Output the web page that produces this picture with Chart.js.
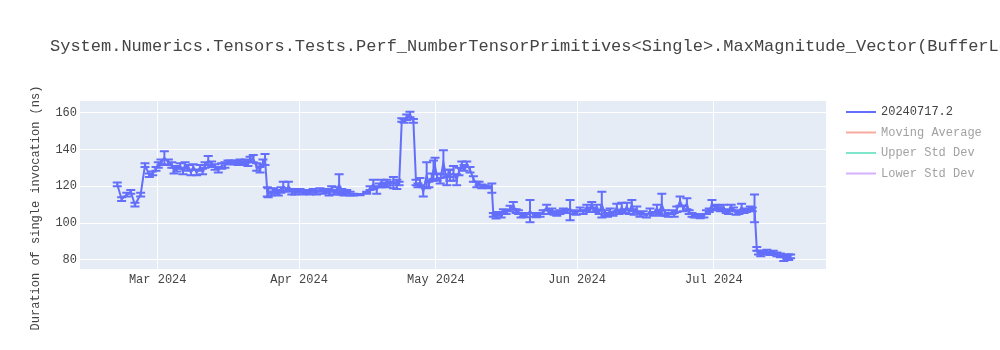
<!DOCTYPE html>
<html><head><meta charset="utf-8">
<script src="https://cdn.jsdelivr.net/npm/chart.js@4"></script>
<style>html,body{margin:0;padding:0;background:#fff}#wrap{width:1000px;height:350px;position:relative}</style>
</head><body><div id="wrap"><canvas id="c" width="1000" height="350"></canvas></div>
<script>
const chartTitle = "System.Numerics.Tensors.Tests.Perf_NumberTensorPrimitives<Single>.MaxMagnitude_Vector(BufferLength: 128)";
const yAxisTitle = "Duration of single invocation (ns)";
const seriesNames = ["20240717.2", "Moving Average", "Upper Std Dev", "Lower Std Dev"];
const seriesColors = ["#636efa", "#f7aa9d", "#80e6cb", "#d5b1fd"];
const yTicks = [80, 100, 120, 140, 160];
const xTickDates = ["2024-03-01", "2024-04-01", "2024-05-01", "2024-06-01", "2024-07-01"];
const xTickLabels = ["Mar 2024", "Apr 2024", "May 2024", "Jun 2024", "Jul 2024"];

const dates = [
"2024-02-21T03:00","2024-02-22T02:00","2024-02-23T05:00","2024-02-24T02:00","2024-02-25T00:00","2024-02-26T06:00","2024-02-27T05:00","2024-02-28T04:00","2024-02-28T22:00","2024-02-29T15:00",
"2024-03-01T03:00","2024-03-01T17:00","2024-03-02T11:00","2024-03-03T08:00","2024-03-04T02:00","2024-03-04T14:00","2024-03-05T04:00","2024-03-05T22:00","2024-03-06T13:00","2024-03-07T00:00",
"2024-03-07T17:00","2024-03-08T07:00","2024-03-08T19:00","2024-03-09T13:00","2024-03-10T07:00","2024-03-10T20:00","2024-03-11T09:00","2024-03-12T02:00","2024-03-12T20:00","2024-03-13T14:00",
"2024-03-14T07:00","2024-03-15T01:00","2024-03-15T18:00","2024-03-16T10:00","2024-03-16T21:00","2024-03-17T23:00","2024-03-18T15:00","2024-03-19T01:00","2024-03-19T17:00","2024-03-20T04:00",
"2024-03-20T19:00","2024-03-21T06:00","2024-03-21T23:00","2024-03-22T17:00","2024-03-23T11:00","2024-03-24T02:00","2024-03-24T13:00","2024-03-25T01:00","2024-03-25T06:00","2024-03-25T21:00",
"2024-03-26T09:00","2024-03-26T23:00","2024-03-27T11:00","2024-03-28T01:00","2024-03-28T13:00","2024-03-29T04:00","2024-03-29T16:00","2024-03-30T10:00","2024-03-31T03:00","2024-04-01T05:00",
"2024-04-01T21:00","2024-04-02T17:00","2024-04-03T10:00","2024-04-04T03:00","2024-04-04T20:00","2024-04-05T14:00","2024-04-06T06:00","2024-04-07T02:00","2024-04-07T14:00","2024-04-08T04:00",
"2024-04-08T16:00","2024-04-09T08:00","2024-04-09T19:00","2024-04-10T09:00","2024-04-10T21:00","2024-04-11T11:00","2024-04-12T05:00","2024-04-12T22:00","2024-04-14T09:00","2024-04-15T20:00",
"2024-04-16T14:00","2024-04-17T07:00","2024-04-18T01:00","2024-04-18T13:00","2024-04-19T03:00","2024-04-19T16:00","2024-04-20T06:00","2024-04-20T23:00","2024-04-21T17:00","2024-04-22T11:00",
"2024-04-22T23:00","2024-04-23T13:00","2024-04-24T01:00","2024-04-24T15:00","2024-04-25T08:00","2024-04-26T02:00","2024-04-26T16:00","2024-04-27T02:00","2024-04-27T13:00","2024-04-28T06:00",
"2024-04-29T00:00","2024-04-29T12:00","2024-04-30T03:00","2024-04-30T12:00","2024-04-30T20:00","2024-05-01T07:00","2024-05-01T23:00","2024-05-02T16:00","2024-05-03T10:00","2024-05-03T19:00",
"2024-05-04T03:00","2024-05-04T21:00","2024-05-05T14:00","2024-05-06T02:00","2024-05-06T17:00","2024-05-07T05:00","2024-05-07T19:00","2024-05-08T12:00","2024-05-09T06:00","2024-05-10T00:00",
"2024-05-10T12:00","2024-05-11T02:00","2024-05-11T19:00","2024-05-12T11:00","2024-05-13T07:00","2024-05-13T15:00","2024-05-14T05:00","2024-05-14T18:00","2024-05-15T08:00","2024-05-15T20:00",
"2024-05-16T10:00","2024-05-17T07:00","2024-05-18T00:00","2024-05-18T15:00","2024-05-19T03:00","2024-05-19T17:00","2024-05-20T05:00","2024-05-20T19:00","2024-05-21T16:00","2024-05-22T10:00",
"2024-05-23T02:00","2024-05-23T21:00","2024-05-24T13:00","2024-05-25T08:00","2024-05-25T20:00","2024-05-26T11:00","2024-05-26T23:00","2024-05-27T13:00","2024-05-28T06:00","2024-05-29T00:00",
"2024-05-29T18:00","2024-05-30T11:00","2024-05-31T05:00","2024-05-31T19:00","2024-06-01T16:00","2024-06-02T08:00","2024-06-03T03:00","2024-06-03T15:00","2024-06-04T05:00","2024-06-04T17:00",
"2024-06-05T07:00","2024-06-05T20:00","2024-06-06T10:00","2024-06-07T03:00","2024-06-07T16:00","2024-06-08T06:00","2024-06-08T21:00","2024-06-09T17:00","2024-06-10T05:00","2024-06-10T19:00",
"2024-06-11T07:00","2024-06-11T22:00","2024-06-12T10:00","2024-06-13T00:00","2024-06-13T12:00","2024-06-14T02:00","2024-06-14T19:00","2024-06-15T12:00","2024-06-16T05:00","2024-06-17T00:00",
"2024-06-17T16:00","2024-06-18T12:00","2024-06-19T00:00","2024-06-19T14:00","2024-06-20T07:00","2024-06-21T00:00","2024-06-21T19:00","2024-06-22T07:00","2024-06-22T21:00","2024-06-23T14:00",
"2024-06-24T07:00","2024-06-25T02:00","2024-06-25T14:00","2024-06-26T05:00","2024-06-26T17:00","2024-06-27T07:00","2024-06-28T00:00","2024-06-28T19:00","2024-06-29T09:00","2024-06-30T00:00",
"2024-06-30T14:00","2024-07-01T07:00","2024-07-01T21:00","2024-07-02T10:00","2024-07-03T02:00","2024-07-03T17:00","2024-07-04T05:00","2024-07-04T19:00","2024-07-05T07:00","2024-07-05T21:00",
"2024-07-06T12:00","2024-07-07T02:00","2024-07-07T15:00","2024-07-08T04:00","2024-07-09T00:00","2024-07-09T10:00","2024-07-09T22:00","2024-07-10T10:00","2024-07-10T19:00","2024-07-11T07:00",
"2024-07-11T20:00","2024-07-12T15:00","2024-07-13T09:00","2024-07-14T01:00","2024-07-14T20:00","2024-07-15T14:00","2024-07-16T08:00","2024-07-16T22:00","2024-07-17T10:00","2024-07-17T20:00"
];
const values = [
121,113,115.5,117,110,115.5,131.5,126,127,129.5,
131.5,133,135.5,133,131.5,128.5,129.5,131,128,131.5,
130,127.5,130.5,127.5,130,128,131.5,134,132,130.5,
129,131,131.5,133,133,133,132.5,133.5,132.5,133.5,
132.5,134.5,135,130.5,129,133,134.5,117,116.5,116,
118,117,116,118,120,118,120,117,116.5,117.5,
116.5,117,116.5,117.5,116.5,118,117,117.5,116,119,
116.5,118,121,117,116,117,116,115.5,115.5,116.5,
119,121,118,120.5,121.5,121,121.5,121.5,122,121,
121.5,156,155.5,157.5,159,155.5,122,120.5,122.5,117,
126,121,125,129,131,125,123,133,123,127,
126,127,123.5,128,131.5,130,132,129,124,121,
121.5,120,120,119.5,119,104.5,103.5,105,104,106.5,
106,108,109.5,106.5,106,104,104.5,104,106.5,104.5,
104,104.5,106,108.5,106,107,105.5,105,106,107,
106.5,107,106,105.5,107.5,106,108.5,107,110,107,
108.5,106,110,105.5,104.5,106.5,105,108.5,106,108.5,
106.5,109,106,110,105.5,107.5,104.5,105.5,104,106.5,
105,108,106,110,105.5,104.5,106,104.5,107.5,112,
108,110.5,106,104.5,104,104,103.5,104,106,107,
110,108.5,108.5,107.5,108.5,106.5,106,108.5,107.5,105.5,
106,108.5,106.5,107,108,107.5,108,86,84,83,
84,84.5,83.5,84,83,82.5,81,82,81.5,82
];
const errors = [
1,1,1,1,1,1,1,1,1,1,
1.5,1.5,3.5,1.5,1.5,1.5,1.5,1.5,1.5,1.5,
1.5,1.5,1.5,1.5,1.5,1.5,1.5,2.5,1.5,1.5,
1.5,1.5,1.5,1,1,1,1,1,1,1,
1.5,1.5,2,2,1.5,1.5,3,2.5,2.5,1,
1,1,1,1.5,2.5,1,2.5,1.5,1,1,
1,1,1,1,1,1,1,1,1,1,
1,1.5,5.5,1.5,1,1,1,0.5,0.3,0.5,
1,2.5,2,1,2,1,2,1,3,2.5,
1,1,1,1.5,1.5,1,1.5,1,2,2.5,
7,1.5,2,5,4.5,2,1.5,6.5,2.5,2,
3,4,3,2,2,1.5,1.5,1.5,1.5,1.5,
1,1,0.5,0.5,2.5,1,1,1,1,1,
1,1.5,2,1,1,1,1,0.8,6,1,
0.8,1,1,1.5,1,1,1,1,1,1,
1,5.5,1,1,1,1,1.5,1,1.5,1,
1.5,1,7,1.5,1,1.5,1,2,1,2.5,
1,2,1,2.5,1,1.5,1,1,1,1.5,
1,2,1,6,1.5,1,1,1,1.5,2.5,
1.5,3,1,1,1,0.8,0.8,1,1,1,
2.5,1.5,1,1,1.5,1,1,1.5,1,1,
1,2,1,1,1,1,7.5,1,1,1,
1,1,0.8,1,1,1,1.5,1,1.5,1
];

const FONT = "'Courier New', 'Liberation Mono', monospace";
const DAY = 86400000;
const toTs = s => Date.parse(s + (s.length === 10 ? "T00:00:00Z" : ":00Z"));
const timestamps = dates.map(toTs);
const mar1 = toTs("2024-03-01");
const xMin = mar1 - 17.05 * DAY;
const xMax = mar1 + 146.6 * DAY;

const bgPlugin = {
  id: 'bg',
  beforeDraw(chart) {
    const {ctx, chartArea: a} = chart;
    ctx.save();
    ctx.fillStyle = '#ffffff';
    ctx.fillRect(0, 0, chart.width, chart.height);
    ctx.fillStyle = '#e5ecf6';
    ctx.fillRect(a.left, a.top, a.right - a.left, a.bottom - a.top);
    ctx.restore();
  }
};

const errPlugin = {
  id: 'errbars',
  afterDatasetsDraw(chart) {
    const {ctx} = chart;
    const xs = chart.scales.x, ys = chart.scales.y;
    ctx.save();
    ctx.strokeStyle = seriesColors[0];
    ctx.lineWidth = 2;
    const hw = 4.5;
    for (let i = 0; i < values.length; i++) {
      const px = xs.getPixelForValue(timestamps[i]);
      const yt = ys.getPixelForValue(values[i] + errors[i]);
      const yb = ys.getPixelForValue(values[i] - errors[i]);
      ctx.beginPath();
      ctx.moveTo(px, yt); ctx.lineTo(px, yb);
      ctx.moveTo(px - hw, yt); ctx.lineTo(px + hw, yt);
      ctx.moveTo(px - hw, yb); ctx.lineTo(px + hw, yb);
      ctx.stroke();
    }
    ctx.restore();
  }
};

const textPlugin = {
  id: 'texts',
  afterDraw(chart) {
    const {ctx} = chart;
    ctx.save();
    ctx.fillStyle = '#444';
    ctx.font = "17px " + FONT;
    ctx.textAlign = 'left';
    ctx.textBaseline = 'middle';
    ctx.fillText(chartTitle, 50, 46);
    ctx.save();
    ctx.translate(36, 208);
    ctx.rotate(-Math.PI / 2);
    ctx.font = "12px " + FONT;
    ctx.textAlign = 'center';
    ctx.fillText(yAxisTitle, 0, 0);
    ctx.restore();
    ctx.font = "12px " + FONT;
    ctx.textAlign = 'left';
    for (let i = 0; i < seriesNames.length; i++) {
      const y = 112 + i * 20.5;
      ctx.strokeStyle = seriesColors[i];
      ctx.lineWidth = 2;
      ctx.beginPath(); ctx.moveTo(846, y); ctx.lineTo(876, y); ctx.stroke();
      ctx.fillStyle = i === 0 ? '#444' : '#a2a2a2';
      ctx.fillText(seriesNames[i], 881, y);
    }
    ctx.restore();
  }
};

new Chart(document.getElementById('c'), {
  type: 'line',
  data: {
    datasets: [
      { label: seriesNames[0], data: timestamps.map((t, i) => ({x: t, y: values[i]})),
        borderColor: seriesColors[0], borderWidth: 2, pointRadius: 0, tension: 0, fill: false },
      { label: seriesNames[1], data: [], hidden: true, borderColor: seriesColors[1] },
      { label: seriesNames[2], data: [], hidden: true, borderColor: seriesColors[2] },
      { label: seriesNames[3], data: [], hidden: true, borderColor: seriesColors[3] }
    ]
  },
  options: {
    responsive: false,
    animation: false,
    devicePixelRatio: 1,
    layout: { padding: { left: 0, right: 174, top: 101, bottom: 0 } },
    plugins: { legend: { display: false }, title: { display: false }, tooltip: { enabled: false } },
    scales: {
      x: {
        type: 'linear', min: xMin, max: xMax,
        grid: { color: '#ffffff', lineWidth: 1, drawTicks: false },
        border: { display: false },
        afterBuildTicks: s => { s.ticks = xTickDates.map(d => ({ value: toTs(d) })); },
        afterFit: s => { s.height = 81; },
        ticks: {
          autoSkip: false, maxRotation: 0, padding: 4, color: '#444',
          font: { family: FONT, size: 12 },
          callback: (v) => { const k = xTickDates.findIndex(d => toTs(d) === v); return k >= 0 ? xTickLabels[k] : ''; }
        }
      },
      y: {
        type: 'linear', min: 75.1, max: 166.3,
        grid: { color: '#ffffff', lineWidth: 1, drawTicks: false },
        border: { display: false },
        afterBuildTicks: s => { s.ticks = yTicks.map(v => ({ value: v })); },
        afterFit: s => { s.width = 80; },
        ticks: { padding: 3, color: '#444', font: { family: FONT, size: 12 } }
      }
    }
  },
  plugins: [bgPlugin, errPlugin, textPlugin]
});
</script>
</body></html>
